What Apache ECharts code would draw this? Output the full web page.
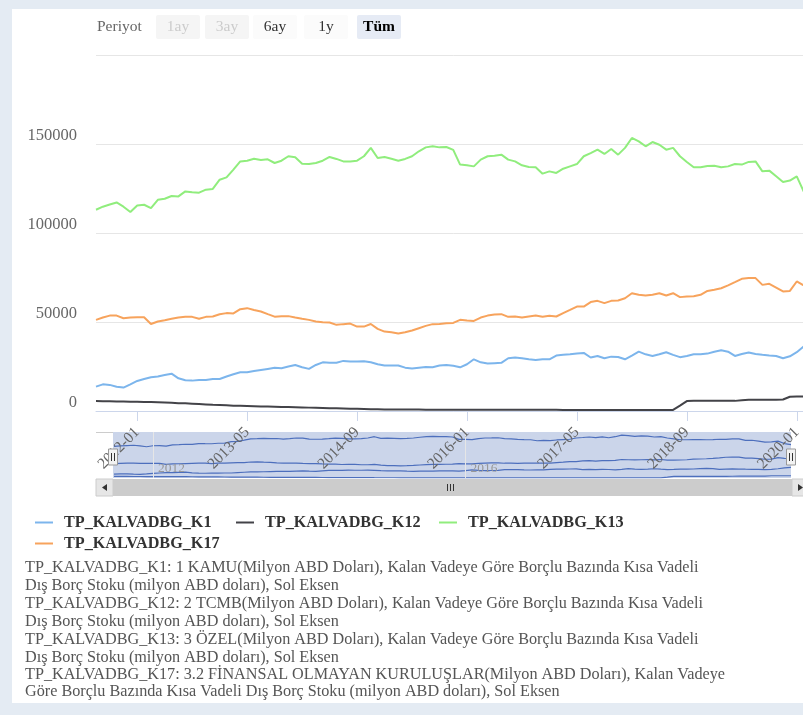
<!DOCTYPE html>
<html>
<head>
<meta charset="utf-8">
<script src="https://cdn.jsdelivr.net/npm/echarts@6/dist/echarts.min.js"></script>
<style>
html,body{margin:0;padding:0;overflow:hidden;width:803px;height:715px;background:#e4ebf3;}
#panel{position:absolute;left:12px;top:9px;width:820px;height:694px;background:#fff;}
#chart{position:absolute;left:0;top:0;width:812px;height:715px;}
</style>
</head>
<body>
<div id="panel"></div>
<div id="chart"></div>
<script>
// ---- data ----
const startYear = 2011, startMonth = 7, monthCount = 105;
const months = [];
for (let k = 0; k < monthCount; k++) {
  const t = startMonth - 1 + k;
  const y = startYear + Math.floor(t / 12), m = (t % 12) + 1;
  months.push(y + '-' + (m < 10 ? '0' + m : m));
}
const seriesNames = ['TP_KALVADBG_K1', 'TP_KALVADBG_K12', 'TP_KALVADBG_K13', 'TP_KALVADBG_K17'];
const k1 = [13700,15000,14700,13700,13200,15000,16900,18000,19000,19400,20300,21000,18400,17300,17100,17500,17500,18000,18000,19400,
  20700,21800,21800,22500,23100,23700,24300,24100,25000,25900,24600,23700,25900,27400,27100,27200,28200,27800,27800,28000,
  27400,26300,25600,25600,25600,24400,23900,24400,24800,24600,25600,25900,25500,24600,26300,29100,27400,26700,26900,27100,
  29700,30100,29700,29100,28700,29100,29100,31200,31600,31900,32300,32700,30100,31000,29700,30600,30400,29100,31200,33400,
  31900,31000,31900,33100,31600,30300,31000,31900,31900,32300,33400,34200,33400,31000,32100,32900,32100,31600,31200,31000,
  29700,30800,33100,36300,38000];
const k12 = [5600,5500,5500,5400,5300,5200,5200,5100,5000,4900,4800,4600,4400,4300,4100,3900,3700,3500,3400,3200,
  3000,2900,2800,2700,2600,2500,2400,2300,2200,2100,2000,1900,1800,1700,1600,1500,1400,1300,1200,1100,
  1000,950,900,850,800,800,800,780,760,750,740,730,720,700,700,700,700,700,700,700,
  700,700,700,700,650,650,650,650,600,600,600,600,600,600,600,600,600,600,600,600,
  600,600,600,600,600,3000,5600,5700,5700,5700,5700,5800,5800,5700,6000,6300,6400,6400,6400,6400,
  6500,8000,8100,8100,8100];
const k13 = [113300,115000,116200,117400,115000,112000,115700,116100,114200,118900,119500,121000,120800,123600,123100,122900,124600,125000,130200,131500,
  135900,140500,140900,142000,141300,141700,139600,140900,143400,142800,139200,139000,139600,140900,143000,141900,140500,140500,140900,143400,
  148100,142400,143000,142000,140900,141900,143400,146200,148400,149000,148400,148600,147000,138700,138300,137700,141500,143400,143700,144300,
  141500,140500,138300,137400,137200,133600,134900,134000,136400,137700,139000,143400,145200,147100,144700,147500,144300,148100,153700,151800,
  149000,151400,149900,147100,148100,143400,140200,137200,137200,137900,138100,137200,137700,139000,138700,140200,140500,134900,135300,132100,
  128900,129700,132100,123600,120000];
const k17 = [51300,52600,53700,53700,52200,52600,52800,52800,49000,50400,51100,51900,52600,53000,53000,51900,53000,53200,54500,55100,
  54900,57300,57900,56900,56000,54500,53100,53400,53400,52600,51900,51300,50400,50000,49800,48500,48900,49200,47500,47500,
  49000,46200,44700,44300,43600,44300,45300,46600,47900,48900,49000,49400,49600,51300,50900,50700,52600,53700,54300,54500,
  53000,53200,52600,53200,53700,53000,53600,53200,55100,56900,58800,58800,61300,62000,60700,62000,62200,63500,66300,65400,
  65000,65400,66300,65000,66300,64100,64400,64600,65400,67600,68200,69100,70700,72500,74400,74800,74800,71000,71600,69500,
  67300,67600,72900,70700,70000];
const seriesValues = [k1, k12, k13, k17];
const yTicks = [0, 50000, 100000, 150000, 200000];
const rangeButtons = ['1ay', '3ay', '6ay', '1y', 'Tüm'];
const navigatorLabelMonths = ['2012-01', '2016-01'];
const descriptionLines = [
  'TP_KALVADBG_K1: 1 KAMU(Milyon ABD Doları), Kalan Vadeye Göre Borçlu Bazında Kısa Vadeli',
  'Dış Borç Stoku (milyon ABD doları), Sol Eksen',
  'TP_KALVADBG_K12: 2 TCMB(Milyon ABD Doları), Kalan Vadeye Göre Borçlu Bazında Kısa Vadeli',
  'Dış Borç Stoku (milyon ABD doları), Sol Eksen',
  'TP_KALVADBG_K13: 3 ÖZEL(Milyon ABD Doları), Kalan Vadeye Göre Borçlu Bazında Kısa Vadeli',
  'Dış Borç Stoku (milyon ABD doları), Sol Eksen',
  'TP_KALVADBG_K17: 3.2 FİNANSAL OLMAYAN KURULUŞLAR(Milyon ABD Doları), Kalan Vadeye',
  'Göre Borçlu Bazında Kısa Vadeli Dış Borç Stoku (milyon ABD doları), Sol Eksen'
];

// ---- style ----
const FONT = '"Liberation Serif", "Times New Roman", serif';
const colors = ['#7cb5ec', '#434348', '#90ed7d', '#f7a35c'];
const navColor = '#4d6fbd';

const chart = echarts.init(document.getElementById('chart'), null, {renderer: 'canvas'});

const mainSeries = seriesNames.map((n, i) => ({
  name: n, type: 'line', xAxisIndex: 0, yAxisIndex: 0,
  data: seriesValues[i], showSymbol: false, symbol: 'none',
  lineStyle: {color: colors[i], width: 2}, itemStyle: {color: colors[i]},
  animation: false, z: 3
}));
const navSeries = seriesNames.map((n, i) => ({
  name: n + '_nav', type: 'line', xAxisIndex: 1, yAxisIndex: 1,
  data: seriesValues[i], showSymbol: false, symbol: 'none',
  lineStyle: {color: navColor, width: 1.2}, animation: false, z: 2, silent: true
}));

const graphics = [];
// range selector
graphics.push({type: 'text', x: 97, y: 27, z: 5,
  style: {text: 'Periyot', font: '15.5px ' + FONT, fill: '#666', verticalAlign: 'middle'}});
const btnCenters = [178, 227, 275, 326, 379];
rangeButtons.forEach((b, i) => {
  const disabled = i < 2, selected = i === 4;
  graphics.push({type: 'rect', shape: {x: btnCenters[i] - 22, y: 15, width: 44, height: 24, r: 2}, z: 4,
    style: {fill: selected ? '#e6ebf5' : (disabled ? '#f5f5f5' : '#fbfbfb')}});
  graphics.push({type: 'text', x: btnCenters[i], y: 27, z: 5,
    style: {text: b, font: (selected ? 'bold ' : '') + '15.5px ' + FONT,
      fill: disabled ? '#cccccc' : (selected ? '#000' : '#333'), align: 'center', verticalAlign: 'middle'}});
});
// navigator mask
graphics.push({type: 'rect', shape: {x: 113, y: 432, width: 678, height: 46}, z: 1,
  style: {fill: 'rgba(102,133,194,0.34)'}});
graphics.push({type: 'line', shape: {x1: 96, y1: 432.5, x2: 113, y2: 432.5}, z: 1,
  style: {stroke: '#cccccc', lineWidth: 1}});
// handles
[113, 791].forEach(hx => {
  graphics.push({type: 'rect', shape: {x: hx - 4.5, y: 449, width: 9, height: 16}, z: 60,
    style: {fill: '#f2f2f2', stroke: '#999', lineWidth: 1}});
  graphics.push({type: 'line', shape: {x1: hx - 1.5, y1: 453, x2: hx - 1.5, y2: 461}, z: 61, style: {stroke: '#333', lineWidth: 1}});
  graphics.push({type: 'line', shape: {x1: hx + 1.5, y1: 453, x2: hx + 1.5, y2: 461}, z: 61, style: {stroke: '#333', lineWidth: 1}});
});
// scrollbar
graphics.push({type: 'rect', shape: {x: 96, y: 479, width: 720, height: 17}, z: 1, style: {fill: '#f2f2f2'}});
graphics.push({type: 'rect', shape: {x: 113, y: 479, width: 679, height: 17}, z: 1, style: {fill: '#cccccc'}});
graphics.push({type: 'rect', shape: {x: 96, y: 479, width: 17, height: 17}, z: 1, style: {fill: '#e6e6e6', stroke: '#cccccc', lineWidth: 1}});
graphics.push({type: 'rect', shape: {x: 792, y: 479, width: 17, height: 17}, z: 1, style: {fill: '#e6e6e6', stroke: '#cccccc', lineWidth: 1}});
graphics.push({type: 'polygon', shape: {points: [[102, 487.5], [107, 484], [107, 491]]}, z: 2, style: {fill: '#333'}});
graphics.push({type: 'polygon', shape: {points: [[803, 487.5], [798, 484], [798, 491]]}, z: 2, style: {fill: '#333'}});
[447, 450, 453].forEach(gx => graphics.push({type: 'line', shape: {x1: gx + 0.5, y1: 484, x2: gx + 0.5, y2: 491}, z: 2,
  style: {stroke: '#333', lineWidth: 1}}));
// description
const descY = [568, 586, 604, 622, 640, 658, 675, 692];
descriptionLines.forEach((t, i) => graphics.push({type: 'text', x: 25, y: descY[i], z: 5,
  style: {text: t, font: '16.2px ' + FONT, fill: '#555', verticalAlign: 'middle'}}));

const legendPos = [[35, 513], [236, 513], [439, 513], [35, 534]];
const legends = seriesNames.map((n, i) => ({
  data: [n], left: legendPos[i][0], top: legendPos[i][1], padding: 0,
  icon: 'rect', itemWidth: 18, itemHeight: 2, selectedMode: false,
  textStyle: {fontFamily: FONT, fontSize: 16.2, fontWeight: 'bold', color: '#333', padding: [0, 0, 0, 6], lineHeight: 19}
}));

const option = {
  animation: false,
  backgroundColor: 'transparent',
  color: colors,
  legend: legends,
  grid: [
    {left: 96, top: 55.7, width: 714.5, height: 355.3, containLabel: false},
    {left: 114, top: 432, width: 677, height: 46, containLabel: false}
  ],
  xAxis: [
    {type: 'category', gridIndex: 0, data: months, boundaryGap: false, z: 10,
      axisLine: {lineStyle: {color: '#ccd6eb', width: 1}},
      axisTick: {show: true, length: 10, lineStyle: {color: '#ccd6eb'}, interval: (idx) => (idx - 6) % 16 === 0},
      axisLabel: {rotate: 45, margin: 19, fontFamily: FONT, fontSize: 15.5, color: '#666',
        interval: (idx) => (idx - 6) % 16 === 0},
      splitLine: {show: false}},
    {type: 'category', gridIndex: 1, data: months, boundaryGap: false, z: 3,
      axisLine: {show: false}, axisTick: {show: false},
      axisLabel: {inside: true, margin: 3, align: 'left', padding: [0, 0, 0, 5], fontFamily: FONT, fontSize: 13.5,
        color: '#999', formatter: (v) => v.slice(0, 4),
        interval: (idx, v) => navigatorLabelMonths.indexOf(v) >= 0},
      splitLine: {show: true, lineStyle: {color: '#e6e6e6', width: 1},
        interval: (idx, v) => navigatorLabelMonths.indexOf(v) >= 0}}
  ],
  yAxis: [
    {type: 'value', gridIndex: 0, min: yTicks[0], max: yTicks[yTicks.length - 1], interval: 50000,
      axisLine: {show: false}, axisTick: {show: false},
      axisLabel: {showMaxLabel: false, margin: 19, fontFamily: FONT, fontSize: 16.5, color: '#666',
        formatter: (v) => String(v), verticalAlign: 'bottom', padding: [0, 0, 0, 0]},
      splitLine: {lineStyle: {color: '#e6e6e6', width: 1}}},
    {type: 'value', gridIndex: 1, min: 0, max: 165000, show: false, splitLine: {show: false}}
  ],
  graphic: {elements: graphics},
  series: mainSeries.concat(navSeries)
};
chart.setOption(option);
</script>
</body>
</html>
